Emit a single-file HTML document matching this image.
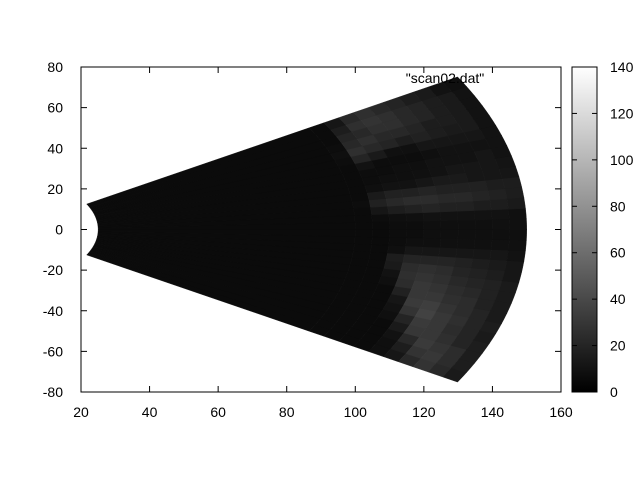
<!DOCTYPE html>
<html><head><meta charset="utf-8"><style>
body{margin:0;background:#fff;}
svg{display:block;font-family:"Liberation Sans",sans-serif;font-size:14px;}
</style></head><body>
<svg id="c" width="640" height="480"></svg>
<script>
const angles=[-29,-27,-25,-23,-21,-19,-17,-15,-13,-11,-9,-7,-5,-3,-1,1,3,5,7,9,11,13,15,17,19,21,23,25,27,29];
const rangeEdges=[25,100,105,110,115,120,125,130,135,140,145,150];
const values=[
[6,6,6,6,6,8,12,22,28,22,14],
[6,6,6,6,6,8,16,28,30,24,16],
[6,6,6,6,6,10,22,32,28,24,16],
[6,6,6,6,6,14,30,30,26,20,16],
[6,6,6,6,8,20,32,30,24,20,14],
[6,6,6,6,10,28,36,30,26,20,16],
[6,6,6,6,12,32,34,28,24,20,14],
[6,6,6,6,18,30,30,26,24,18,14],
[6,6,6,8,24,30,28,24,22,18,14],
[6,6,6,10,26,28,26,22,20,18,14],
[6,6,6,14,24,26,24,20,18,16,12],
[6,6,6,16,20,20,20,18,16,14,12],
[6,6,6,8,12,12,12,12,12,12,10],
[6,6,6,7,8,8,9,9,9,9,9],
[6,6,6,7,7,8,8,8,8,8,8],
[6,6,6,7,7,8,8,8,8,9,9],
[6,6,7,8,9,10,10,10,10,10,9],
[6,6,12,16,18,20,18,18,16,16,14],
[6,7,18,22,24,24,22,22,20,18,16],
[6,6,14,18,18,20,18,18,18,16,16],
[6,6,8,10,10,12,14,14,12,12,12],
[6,6,7,8,8,9,10,12,12,12,11],
[6,6,7,7,8,8,10,10,10,12,10],
[6,6,10,7,7,7,8,10,10,10,10],
[6,7,20,14,9,9,12,12,12,12,10],
[6,8,26,22,20,16,18,16,14,14,10],
[6,7,22,26,22,22,20,16,16,14,10],
[6,6,20,22,26,26,22,20,16,14,10],
[6,6,16,26,28,26,22,20,16,14,10],
[6,6,12,22,26,22,20,16,14,10,8]];
const xTicks=[20,40,60,80,100,120,140,160];
const yTicks=[-80,-60,-40,-20,0,20,40,60,80];
const cbTicks=[0,20,40,60,80,100,120,140];
const title='"scan02.dat"';

const L=81,R=561,T=67,B=392,CBL=572,CBR=597,CMAX=140;
const sx=v=>L+(v-20)/140*(R-L);
const sy=v=>B-(v+80)/160*(B-T);
const cy=v=>B-v/CMAX*(B-T);
const NS='http://www.w3.org/2000/svg';
const svg=document.getElementById('c');
function mk(t,a,p){const e=document.createElementNS(NS,t);for(const k in a)e.setAttribute(k,a[k]);(p||svg).appendChild(e);return e;}
const gray=v=>{const g=Math.max(0,Math.min(255,Math.round(255*v/CMAX)));return `rgb(${g},${g},${g})`;};

const heat=mk('g',{});


const dA=2;
angles.forEach((a,i)=>{
  for(let j=0;j<rangeEdges.length-1;j++){
    const r0=rangeEdges[j],r1=rangeEdges[j+1];
    const a0=(a-dA/2-0.05)*Math.PI/180,a1=(a+dA/2+0.05)*Math.PI/180;
    const pts=[];const n=6;
    for(let k=0;k<=n;k++){const t=a0+(a1-a0)*k/n;pts.push(sx(r1*Math.cos(t))+','+sy(r1*Math.sin(t)));}
    for(let k=n;k>=0;k--){const t=a0+(a1-a0)*k/n;pts.push(sx(r0*Math.cos(t))+','+sy(r0*Math.sin(t)));}
    const p=mk('polygon',{points:pts.join(' '),fill:gray(values[i][j]),stroke:gray(values[i][j]),'stroke-width':0.4},heat);
    
    
  }
});

const frame=mk('rect',{x:L,y:T,width:R-L,height:B-T,fill:'none',stroke:'#000','stroke-width':1});



xTicks.forEach(v=>{
  const x=sx(v);
  mk('line',{x1:x,y1:B,x2:x,y2:B-6,stroke:'#000'});
  mk('line',{x1:x,y1:T,x2:x,y2:T+6,stroke:'#000'});
  const t=mk('text',{x:x,y:B+25,'text-anchor':'middle'});t.textContent=v;
  
  
});
yTicks.forEach(v=>{
  const y=sy(v);
  mk('line',{x1:L,y1:y,x2:L+6,y2:y,stroke:'#000'});
  mk('line',{x1:R,y1:y,x2:R-6,y2:y,stroke:'#000'});
  const t=mk('text',{x:L-18,y:y+5,'text-anchor':'end'});t.textContent=v;
  
  
});

const key=mk('text',{x:445,y:83,'text-anchor':'middle'});key.textContent=title;



const defs=mk('defs',{});
const lg=mk('linearGradient',{id:'cbg',x1:0,y1:1,x2:0,y2:0},defs);
mk('stop',{offset:0,'stop-color':'#000'},lg);mk('stop',{offset:1,'stop-color':'#fff'},lg);
const cb=mk('rect',{x:CBL,y:T,width:CBR-CBL,height:B-T,fill:'url(#cbg)',stroke:'#000'});


cbTicks.forEach(v=>{
  const y=cy(v);
  mk('line',{x1:CBL,y1:y,x2:CBL+5,y2:y,stroke:'#000'});
  mk('line',{x1:CBR,y1:y,x2:CBR-5,y2:y,stroke:'#000'});
  const t=mk('text',{x:610,y:y+5});t.textContent=v;
  
  
});
</script>
</body></html>
